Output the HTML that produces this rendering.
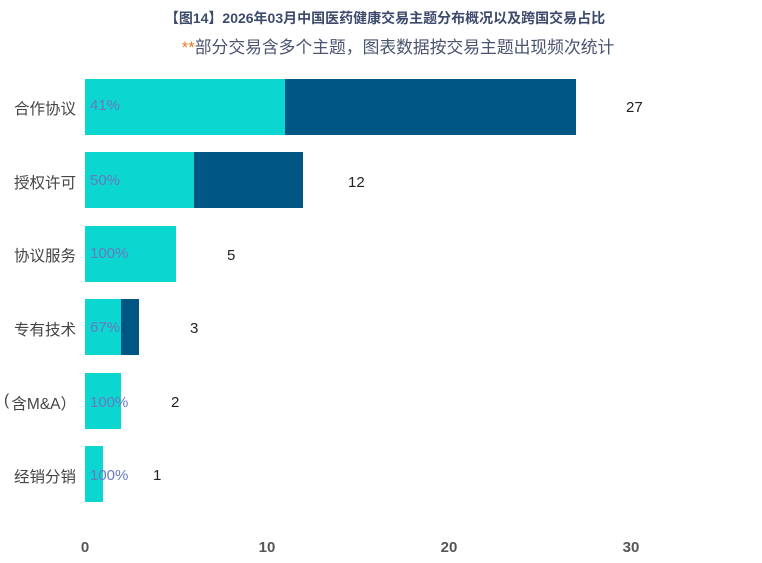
<!DOCTYPE html>
<html><head><meta charset="utf-8"><style>
body{margin:0;width:762px;height:563px;background:#fff;position:relative;overflow:hidden;font-family:"Liberation Sans","Noto Sans CJK SC",sans-serif}
.a{position:absolute;white-space:nowrap}
.t{left:0;width:770px;text-align:center;top:8px;font-size:14px;font-weight:bold;color:#3d4a6b}
.s{left:0;width:796px;text-align:center;top:34px;font-size:16.8px;color:#4a5470}
.c{right:686px;font-size:15.5px;color:#444;text-align:right}
.b{height:56px}
.l{background:#0bd6cf}.d{background:#005683}
.p{font-size:15px;color:#6a78c4}
.v{font-size:15px;color:#222}
.x{top:539px;font-size:15px;color:#555;font-weight:bold;transform:translateX(-50%)}
</style></head><body>
<div class="a t">【图14】2026年03月中国医药健康交易主题分布概况以及跨国交易占比</div>
<div class="a s"><span style="color:#f07a2a">**</span>部分交易含多个主题，图表数据按交易主题出现频次统计</div>

<div class="a b l" style="left:85px;top:79px;width:200px"></div><div class="a b d" style="left:285px;top:79px;width:291px"></div>
<div class="a b l" style="left:85px;top:152px;width:109px"></div><div class="a b d" style="left:194px;top:152px;width:109px"></div>
<div class="a b l" style="left:85px;top:226px;width:91px"></div>
<div class="a b l" style="left:85px;top:299px;width:36px"></div><div class="a b d" style="left:121px;top:299px;width:18px"></div>
<div class="a b l" style="left:85px;top:373px;width:36px"></div>
<div class="a b l" style="left:85px;top:446px;width:18px"></div>

<div class="a c" style="top:97px">合作协议</div>
<div class="a c" style="top:171px">授权许可</div>
<div class="a c" style="top:244px">协议服务</div>
<div class="a c" style="top:318px">专有技术</div>
<div class="a c" style="top:392px;right:686px">含M&amp;A）</div>
<div class="a c" style="top:392px;left:4px;right:auto">(</div>
<div class="a c" style="top:465px">经销分销</div>

<div class="a p" style="left:90px;top:97px">41%</div>
<div class="a p" style="left:90px;top:172px">50%</div>
<div class="a p" style="left:90px;top:245px">100%</div>
<div class="a p" style="left:90px;top:319px">67%</div>
<div class="a p" style="left:90px;top:394px">100%</div>
<div class="a p" style="left:90px;top:467px">100%</div>

<div class="a v" style="left:626px;top:99px">27</div>
<div class="a v" style="left:348px;top:174px">12</div>
<div class="a v" style="left:227px;top:247px">5</div>
<div class="a v" style="left:190px;top:320px">3</div>
<div class="a v" style="left:171px;top:394px">2</div>
<div class="a v" style="left:153px;top:467px">1</div>

<div class="a x" style="left:85px">0</div>
<div class="a x" style="left:267px">10</div>
<div class="a x" style="left:449px">20</div>
<div class="a x" style="left:631px">30</div>
</body></html>
